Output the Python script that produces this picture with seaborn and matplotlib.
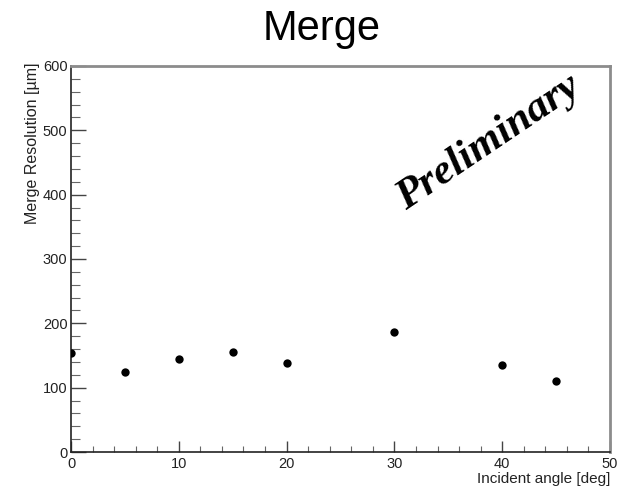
import matplotlib
matplotlib.use("Agg")
import matplotlib.pyplot as plt
from matplotlib.ticker import MultipleLocator
import seaborn as sns
import pandas as pd

# Merge resolution versus incident angle
angles = [0, 5, 10, 15, 20, 30, 40, 45]
resolution = [154, 125, 145, 156, 138, 186, 136, 110]

sns.set_style("white")
plt.rcParams["font.family"] = ["Liberation Sans", "DejaVu Sans"]

df = pd.DataFrame({"angle": angles, "resolution": resolution})

fig = plt.figure(figsize=(6.22, 4.88), dpi=100)
ax = fig.add_axes([71 / 622, 1 - 452 / 488, (610 - 71) / 622, (452 - 66) / 488])

sns.scatterplot(data=df, x="angle", y="resolution", ax=ax, color="black",
                s=36, edgecolor="black", linewidth=0, zorder=5, legend=False)

ax.set_xlim(0, 50)
ax.set_ylim(0, 600)

ax.xaxis.set_major_locator(MultipleLocator(10))
ax.xaxis.set_minor_locator(MultipleLocator(2))
ax.yaxis.set_major_locator(MultipleLocator(100))
ax.yaxis.set_minor_locator(MultipleLocator(20))

ax.tick_params(axis="x", which="major", direction="in", length=8, width=1,
               color="#444444", labelsize=10.5, pad=3.5, bottom=True, top=False,
               labelcolor="#222222")
ax.tick_params(axis="x", which="minor", direction="in", length=4.5, width=0.8,
               color="#666666", bottom=True, top=False)
ax.tick_params(axis="y", which="major", direction="in", length=11, width=1,
               color="#444444", labelsize=10.5, pad=2.5, left=True, right=False,
               labelcolor="#222222")
ax.tick_params(axis="y", which="minor", direction="in", length=6.5, width=0.8,
               color="#666666", left=True, right=False)

for side in ("left", "bottom"):
    ax.spines[side].set_color("#222222")
    ax.spines[side].set_linewidth(1.2)
for side in ("top", "right"):
    ax.spines[side].set_color("#8c8c8c")
    ax.spines[side].set_linewidth(2.0)

ax.set_xlabel("")
ax.set_ylabel("")

# axis titles aligned to the ends of the axes
fig.text(610 / 622, 1 - 483 / 488, "Incident angle [deg]", ha="right", va="baseline",
         fontsize=11, color="#222222")
fig.text(25 / 622, 1 - 62 / 488, "Merge Resolution [\u00b5m]", ha="left", va="top",
         rotation=90, fontsize=11.5, color="#222222")

fig.text(322 / 622, 1 - 40 / 488, "Merge", ha="center", va="baseline", fontsize=30,
         color="black")

ax.text(0.775, 0.8, "Preliminary", transform=ax.transAxes, ha="center", va="center",
        rotation=34, fontsize=31, fontfamily="Liberation Serif", fontstyle="italic",
        fontweight="bold", color="black")

fig.savefig("out.png", dpi=100, facecolor="white")
